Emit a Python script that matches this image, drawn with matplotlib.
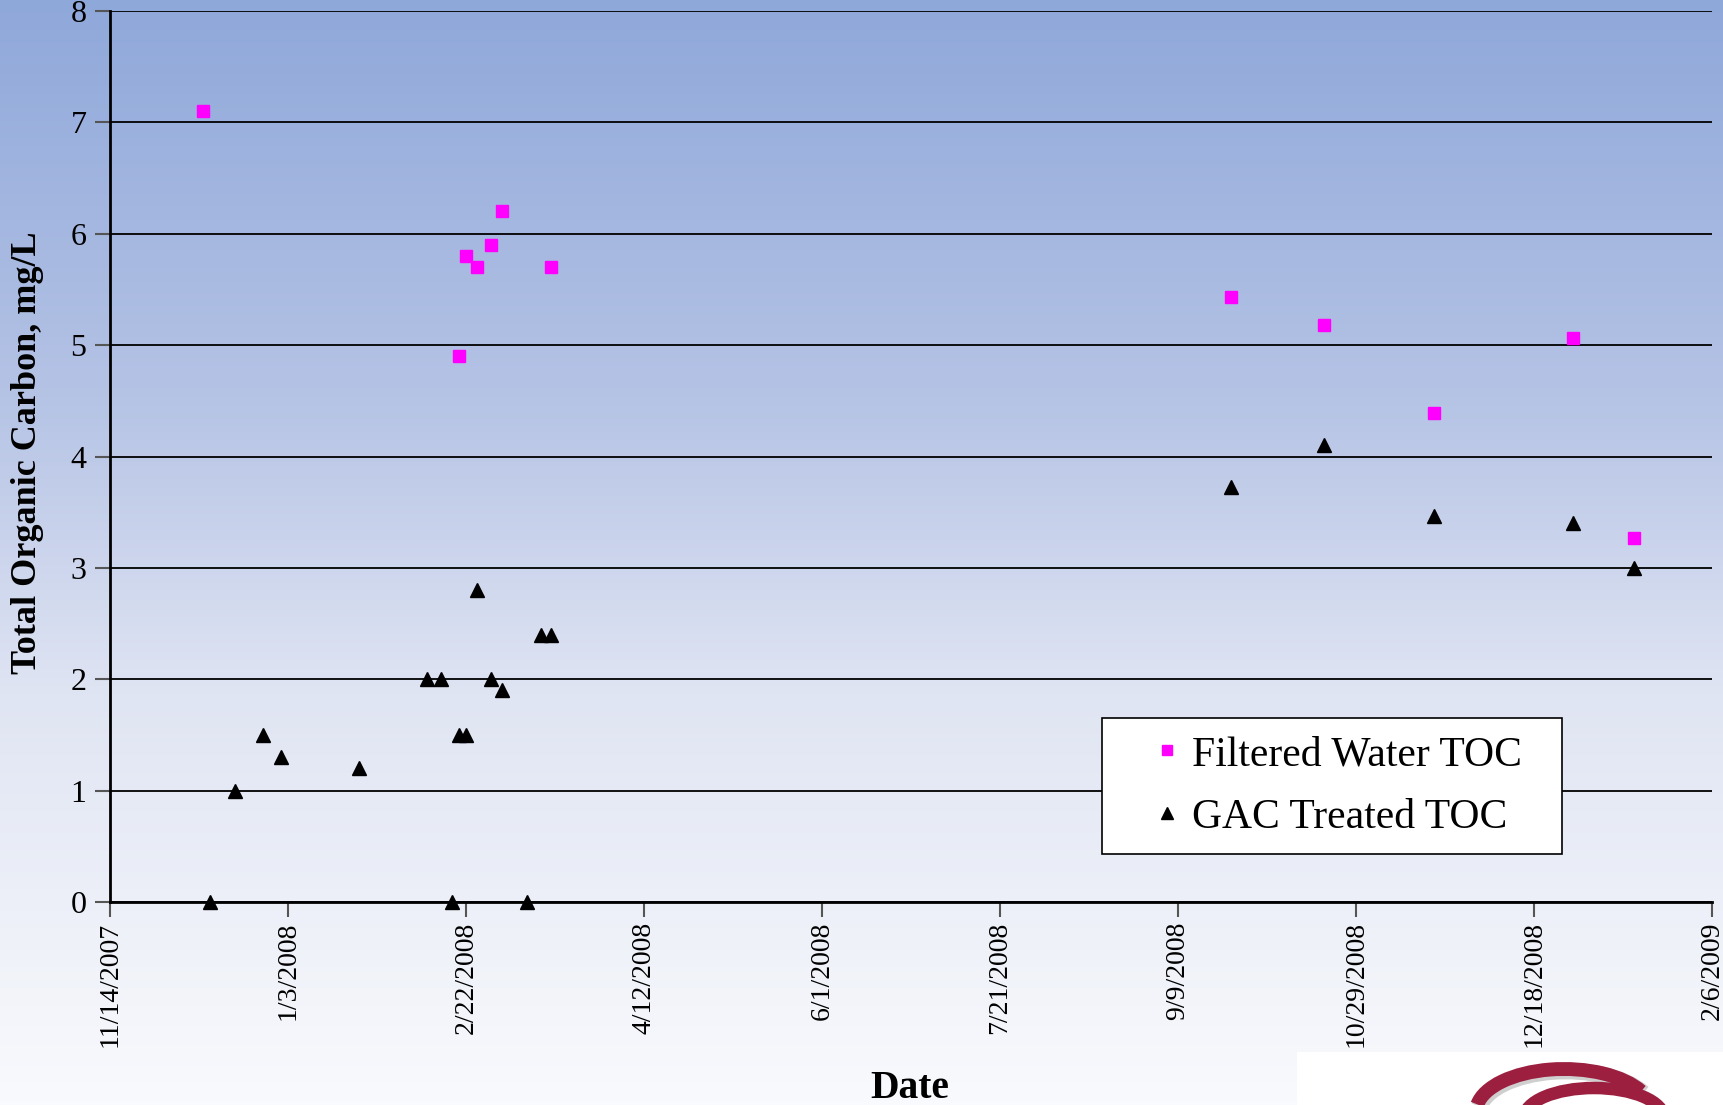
import matplotlib.pyplot as plt
import matplotlib.dates as mdates
from matplotlib.colors import LinearSegmentedColormap
from matplotlib.patches import Rectangle, Arc
import numpy as np
import datetime as dt

plt.rcParams['font.family'] = ['Liberation Serif', 'DejaVu Serif']

# sample dates and TOC readings (mg/L)
filtered_dates = ['2007-12-10', '2008-02-20', '2008-02-22', '2008-02-25', '2008-02-29',
                  '2008-03-03', '2008-03-17', '2008-09-24', '2008-10-20', '2008-11-20',
                  '2008-12-29', '2009-01-15']
filtered_toc = [7.1, 4.9, 5.8, 5.7, 5.9, 6.2, 5.7, 5.43, 5.18, 4.39, 5.06, 3.27]

gac_dates = ['2007-12-12', '2007-12-19', '2007-12-27', '2008-01-01', '2008-01-23',
             '2008-02-11', '2008-02-15', '2008-02-18', '2008-02-20', '2008-02-22',
             '2008-02-25', '2008-02-29', '2008-03-03', '2008-03-10', '2008-03-14',
             '2008-03-17', '2008-09-24', '2008-10-20', '2008-11-20', '2008-12-29',
             '2009-01-15']
gac_toc = [0, 1.0, 1.5, 1.3, 1.2, 2.0, 2.0, 0, 1.5, 1.5, 2.8, 2.0, 1.9, 0, 2.4, 2.4,
           3.73, 4.1, 3.47, 3.4, 3.0]

x_start = dt.date(2007, 11, 14)
x_end = dt.date(2009, 2, 6)
tick_step_days = 50


def to_dates(strs):
    return [dt.datetime.strptime(s, '%Y-%m-%d') for s in strs]


fig = plt.figure(figsize=(17.24, 11.05), dpi=100)

# blue-to-white backdrop over the whole slide
bg = fig.add_axes([0, 0, 1, 1], zorder=-10)
cmap = LinearSegmentedColormap.from_list(
    'slide', [(0.0, '#8fa8da'), (0.36, '#b5c3e5'), (0.63, '#e0e5f3'), (1.0, '#f9fafd')])
bg.imshow(np.linspace(0, 1, 256).reshape(-1, 1), aspect='auto', cmap=cmap,
          extent=[0, 1, 0, 1], origin='upper')
bg.set_axis_off()

ax = fig.add_axes([110 / 1724, 1 - 902 / 1105, 1602 / 1724, 891 / 1105])
ax.patch.set_alpha(0)

ax.plot(to_dates(filtered_dates), filtered_toc, linestyle='none', marker='s',
        markersize=9, color='#ff00ff', label='Filtered Water TOC', clip_on=False, zorder=3)
ax.plot(to_dates(gac_dates), gac_toc, linestyle='none', marker='^',
        markersize=10.5, color='black', label='GAC Treated TOC', clip_on=False, zorder=3)

ax.set_ylim(0, 8)
ax.set_yticks(range(0, 9))
ax.yaxis.grid(True, color='black', linewidth=1.3)
ax.set_axisbelow(True)

ticks = [x_start + dt.timedelta(days=d) for d in range(0, (x_end - x_start).days + 1, tick_step_days)]
ax.set_xlim(x_start, x_end)
ax.set_xticks(ticks)
ax.xaxis.set_major_formatter(lambda v, pos: '{d.month}/{d.day}/{d.year}'.format(d=mdates.num2date(v)))
plt.setp(ax.get_xticklabels(), rotation=90)

for s in ['top', 'right']:
    ax.spines[s].set_visible(False)
for s in ['left', 'bottom']:
    ax.spines[s].set_linewidth(2)
ax.tick_params(axis='both', direction='out', length=11, width=1.5, color='#555555')
ax.tick_params(axis='y', labelsize=23, pad=6)
ax.tick_params(axis='x', labelsize=20, pad=3)

fig.text(28 / 1724, 1 - 453 / 1105, 'Total Organic Carbon, mg/L', fontsize=26,
         fontweight='bold', rotation=90, ha='center', va='center')
fig.text(910 / 1724, 1 - 1088 / 1105, 'Date', fontsize=28.5, fontweight='bold',
         ha='center', va='center')

leg = ax.legend(loc='upper left', bbox_to_anchor=(0.6192, 0.0, 0.2871, 0.2065), mode='expand',
                fontsize=30, frameon=True, fancybox=False, edgecolor='black', framealpha=1,
                borderpad=0.42, handlelength=2.3, handletextpad=-0.57, labelspacing=0.58,
                markerscale=0.85, borderaxespad=0)
leg.get_frame().set_linewidth(1.2)

# logo corner
logo = fig.add_axes([1297 / 1724, 0, 427 / 1724, 53 / 1105])
logo.set_xlim(1297, 1724)
logo.set_ylim(1105, 1052)
logo.set_axis_off()
logo.add_patch(Rectangle((1297, 1052), 427, 53, facecolor='white', edgecolor='none'))
logo.add_patch(Arc((1566, 1114), 176, 86, theta1=185, theta2=345, color='#cfcfcf', linewidth=12))
logo.add_patch(Arc((1564, 1112), 176, 86, theta1=185, theta2=345, color='#9c1f3f', linewidth=10))
logo.add_patch(Arc((1594, 1118), 140, 60, theta1=180, theta2=360, color='#9c1f3f', linewidth=9))

fig.savefig('out.png', dpi=100)
